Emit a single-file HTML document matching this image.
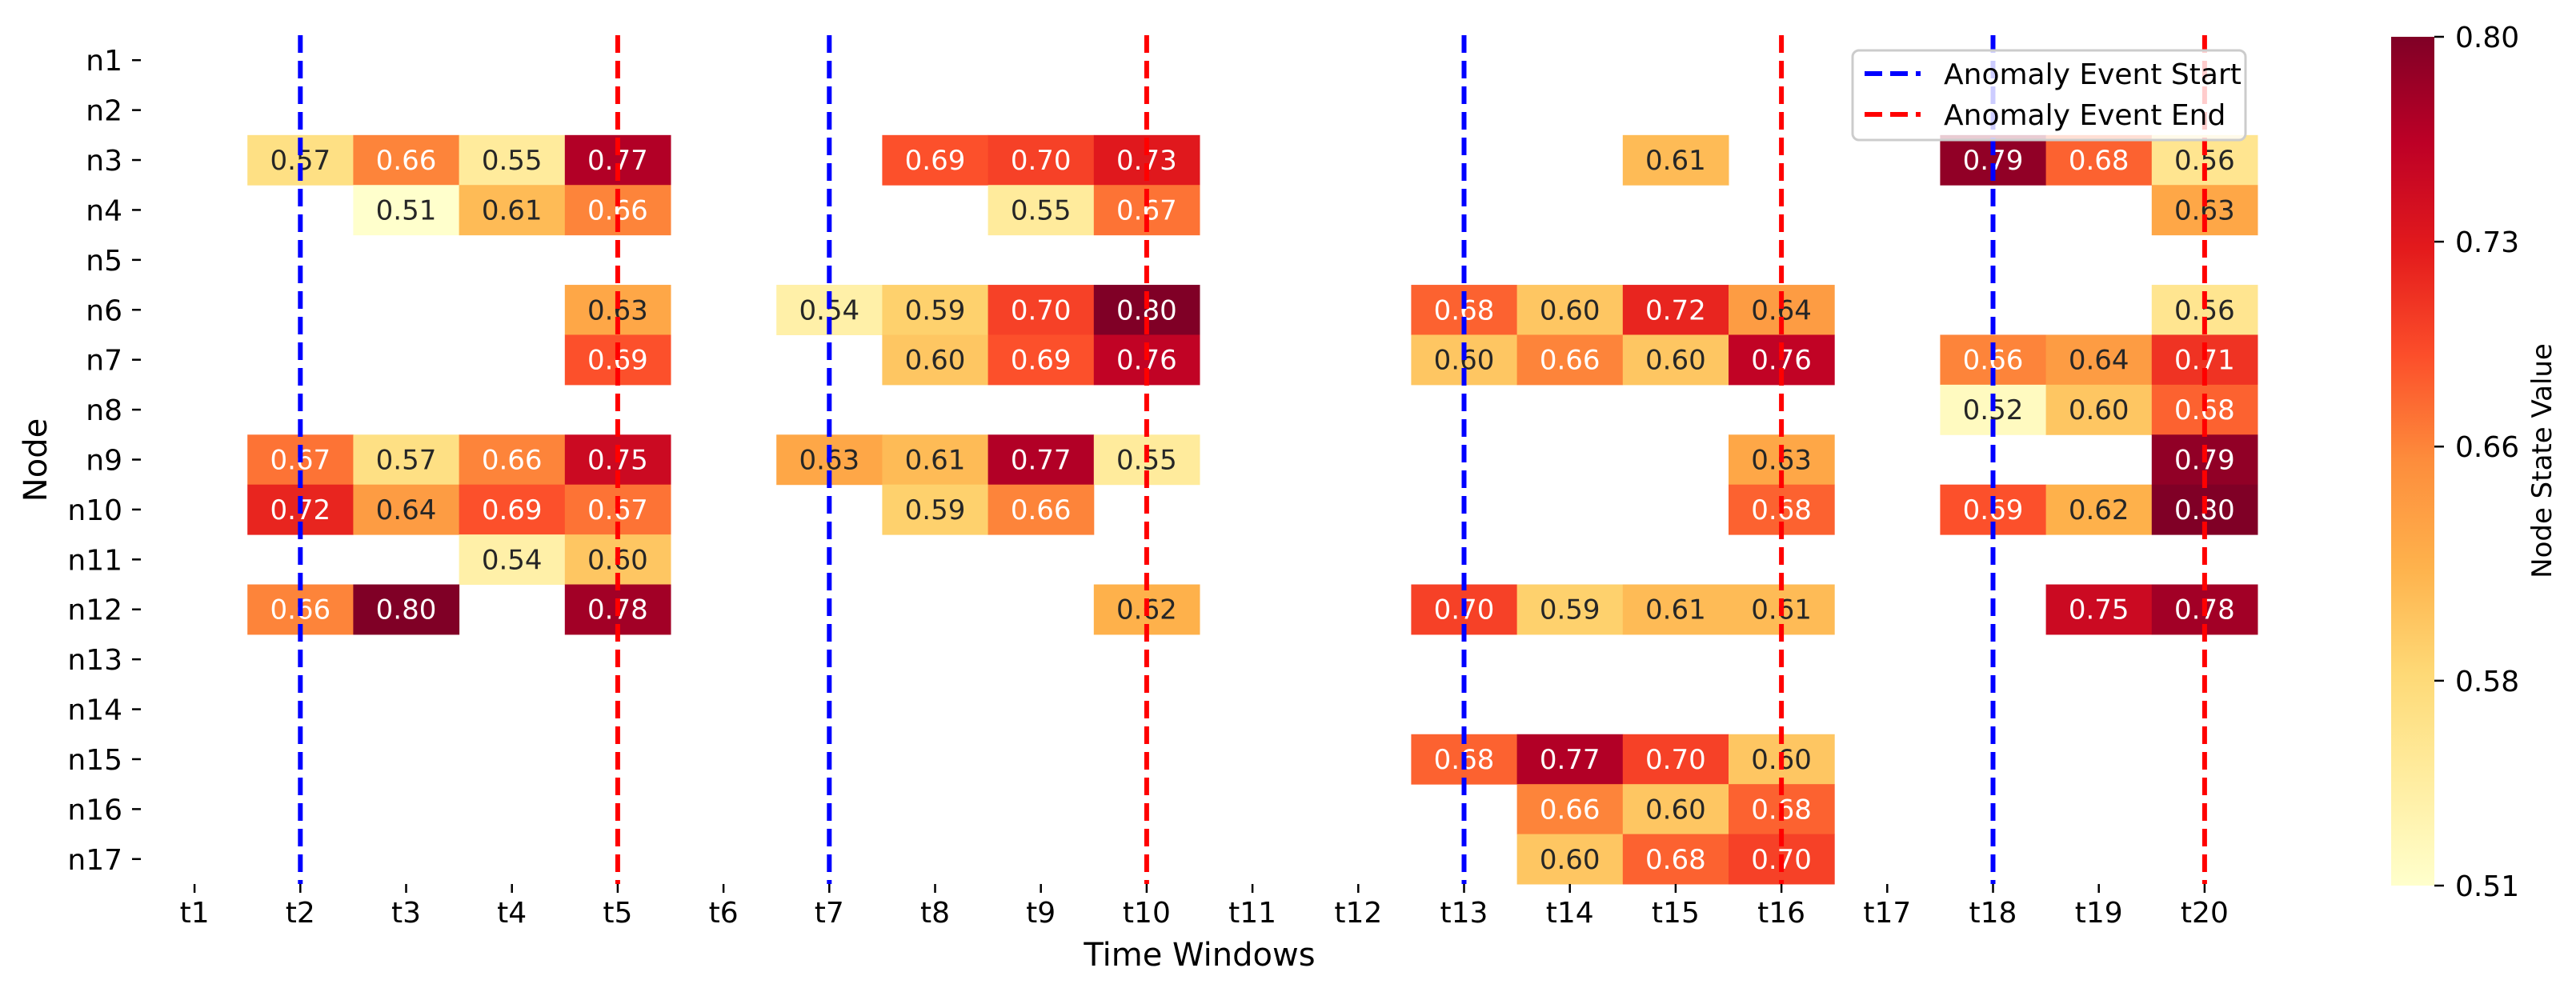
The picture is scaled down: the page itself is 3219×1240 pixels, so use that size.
<!DOCTYPE html>
<html><head><meta charset="utf-8"><style>
html,body{margin:0;padding:0;background:#fff}
svg{display:block;font-family:"DejaVu Sans","Liberation Sans",sans-serif}
</style></head><body>
<svg id="chart" width="3219" height="1240" viewBox="0 0 3219 1240" xmlns="http://www.w3.org/2000/svg">
<defs>
<linearGradient id="cbgrad" x1="0" y1="1" x2="0" y2="0">
<stop offset="0" stop-color="#ffffcc"/><stop offset="0.125" stop-color="#ffeda0"/><stop offset="0.25" stop-color="#fed976"/><stop offset="0.375" stop-color="#feb24c"/><stop offset="0.5" stop-color="#fd8d3c"/><stop offset="0.625" stop-color="#fc4e2a"/><stop offset="0.75" stop-color="#e31a1c"/><stop offset="0.875" stop-color="#bd0026"/><stop offset="1" stop-color="#800026"/>
</linearGradient>
</defs>
<g id="cells"></g>
<g id="lines"></g>
<g id="xaxis"></g>
<g id="yaxis"></g>
<text x="1499" y="1207" font-size="40" text-anchor="middle">Time Windows</text>
<text x="0" y="0" font-size="40" text-anchor="middle" transform="translate(58,575) rotate(-90)">Node</text>
<g>
<rect x="2315" y="63" width="491" height="112" rx="8" fill="#fff" fill-opacity="0.8" stroke="#cccccc" stroke-width="3"/>
<line x1="2330" y1="92" x2="2400" y2="92" stroke="#0000ff" stroke-width="6" stroke-dasharray="22,10"/>
<text x="2429" y="105" font-size="36">Anomaly Event Start</text>
<line x1="2330" y1="143" x2="2400" y2="143" stroke="#ff0000" stroke-width="6" stroke-dasharray="22,10"/>
<text x="2429" y="156" font-size="36">Anomaly Event End</text>
</g>
<g>
<rect x="2988" y="46" width="54" height="1061" fill="url(#cbgrad)"/>
<g id="cbticks"></g>
<text x="0" y="0" font-size="34" text-anchor="middle" transform="translate(3188,576) rotate(-90)">Node State Value</text>
</g>
</svg>
<script>
const times = ["t1","t2","t3","t4","t5","t6","t7","t8","t9","t10","t11","t12","t13","t14","t15","t16","t17","t18","t19","t20"];
const nodes = ["n1","n2","n3","n4","n5","n6","n7","n8","n9","n10","n11","n12","n13","n14","n15","n16","n17"];
const cellNodes = ["n3","n3","n3","n3","n3","n3","n3","n3","n3","n3","n3",
 "n4","n4","n4","n4","n4","n4",
 "n6","n6","n6","n6","n6","n6","n6","n6","n6","n6",
 "n7","n7","n7","n7","n7","n7","n7","n7","n7","n7","n7",
 "n8","n8","n8",
 "n9","n9","n9","n9","n9","n9","n9","n9","n9","n9",
 "n10","n10","n10","n10","n10","n10","n10","n10","n10","n10",
 "n11","n11",
 "n12","n12","n12","n12","n12","n12","n12","n12","n12","n12",
 "n15","n15","n15","n15","n16","n16","n16","n17","n17","n17"];
const cellTimes = ["t2","t3","t4","t5","t8","t9","t10","t15","t18","t19","t20",
 "t3","t4","t5","t9","t10","t20",
 "t5","t7","t8","t9","t10","t13","t14","t15","t16","t20",
 "t5","t8","t9","t10","t13","t14","t15","t16","t18","t19","t20",
 "t18","t19","t20",
 "t2","t3","t4","t5","t7","t8","t9","t10","t16","t20",
 "t2","t3","t4","t5","t8","t9","t16","t18","t19","t20",
 "t4","t5",
 "t2","t3","t5","t10","t13","t14","t15","t16","t19","t20",
 "t13","t14","t15","t16","t14","t15","t16","t14","t15","t16"];
const cellValues = [0.57,0.66,0.55,0.77,0.69,0.70,0.73,0.61,0.79,0.68,0.56,
 0.51,0.61,0.66,0.55,0.67,0.63,
 0.63,0.54,0.59,0.70,0.80,0.68,0.60,0.72,0.64,0.56,
 0.69,0.60,0.69,0.76,0.60,0.66,0.60,0.76,0.66,0.64,0.71,
 0.52,0.60,0.68,
 0.67,0.57,0.66,0.75,0.63,0.61,0.77,0.55,0.63,0.79,
 0.72,0.64,0.69,0.67,0.59,0.66,0.68,0.69,0.62,0.80,
 0.54,0.60,
 0.66,0.80,0.78,0.62,0.70,0.59,0.61,0.61,0.75,0.78,
 0.68,0.77,0.70,0.60,0.66,0.60,0.68,0.60,0.68,0.70];
const startTimes = ["t2","t7","t13","t18"];
const endTimes = ["t5","t10","t16","t20"];
const cbTicks = [0.51,0.58,0.66,0.73,0.80];
const vmin = 0.51, vmax = 0.80;

const NS="http://www.w3.org/2000/svg";
const L=177, R=2821, T=44, B=1105;
const cw=(R-L)/times.length, ch=(B-T)/nodes.length;
function xPos(t){return L+times.indexOf(t)*cw;}
function yPos(n){return T+nodes.indexOf(n)*ch;}
const stops=[[255,255,204],[255,237,160],[254,217,118],[254,178,76],[253,141,60],[252,78,42],[227,26,28],[189,0,38],[128,0,38]];
function color(v){let f=Math.max(0,Math.min(1,(v-vmin)/(vmax-vmin)))*(stops.length-1);let i=Math.min(Math.floor(f),stops.length-2),r=f-i;const c=stops[i].map((a,k)=>Math.round(a+(stops[i+1][k]-a)*r));return {s:`rgb(${c.join(',')})`,c:c};}
function mk(tag,attrs,parent){const e=document.createElementNS(NS,tag);for(const k in attrs)e.setAttribute(k,attrs[k]);parent.appendChild(e);return e;}
const gc=document.getElementById('cells');
for(let i=0;i<cellValues.length;i++){
 const v=cellValues[i],col=color(v);
 const r=mk('rect',{x:xPos(cellTimes[i]),y:yPos(cellNodes[i]),width:cw+0.5,height:ch+0.5,fill:col.s},gc);
 
 
 const t=mk('text',{x:xPos(cellTimes[i])+cw/2,y:yPos(cellNodes[i])+ch/2+12,'font-size':34,'text-anchor':'middle',fill:v>=0.655?'#ffffff':'#262626'},gc);
 
 
 t.textContent=v.toFixed(2);
}
const gl=document.getElementById('lines');
function vline(tm,colr,name){const x=xPos(tm)+cw/2;const l=mk('line',{x1:x,y1:T,x2:x,y2:B,stroke:colr,'stroke-width':6,'stroke-dasharray':'22,10'},gl);
 
 }
startTimes.forEach(t=>vline(t,'#0000ff','anomaly-start-line'));
endTimes.forEach(t=>vline(t,'#ff0000','anomaly-end-line'));
const gx=document.getElementById('xaxis');
times.forEach(t=>{const x=xPos(t)+cw/2;
 const tk=mk('line',{x1:x,y1:B,x2:x,y2:B+11,stroke:'#000','stroke-width':2.5},gx);
 
 
 const lb=mk('text',{x:x,y:1153,'font-size':36,'text-anchor':'middle'},gx);
 
 
 lb.textContent=t;});
const gy=document.getElementById('yaxis');
nodes.forEach(n=>{const y=yPos(n)+ch/2;
 const tk=mk('line',{x1:L-12,y1:y,x2:L-1,y2:y,stroke:'#000','stroke-width':2.5},gy);
 
 
 const lb=mk('text',{x:L-24,y:y+13,'font-size':36,'text-anchor':'end'},gy);
 
 
 lb.textContent=n;});
const gcb=document.getElementById('cbticks');
cbTicks.forEach(v=>{const y=1107-(v-vmin)/(vmax-vmin)*1061;
 const tk=mk('line',{x1:3042,y1:y,x2:3054,y2:y,stroke:'#000','stroke-width':2.5},gcb);
 
 
 const lb=mk('text',{x:3068,y:y+13,'font-size':36},gcb);
 
 
 lb.textContent=v.toFixed(2);});
</script>
</body></html>
